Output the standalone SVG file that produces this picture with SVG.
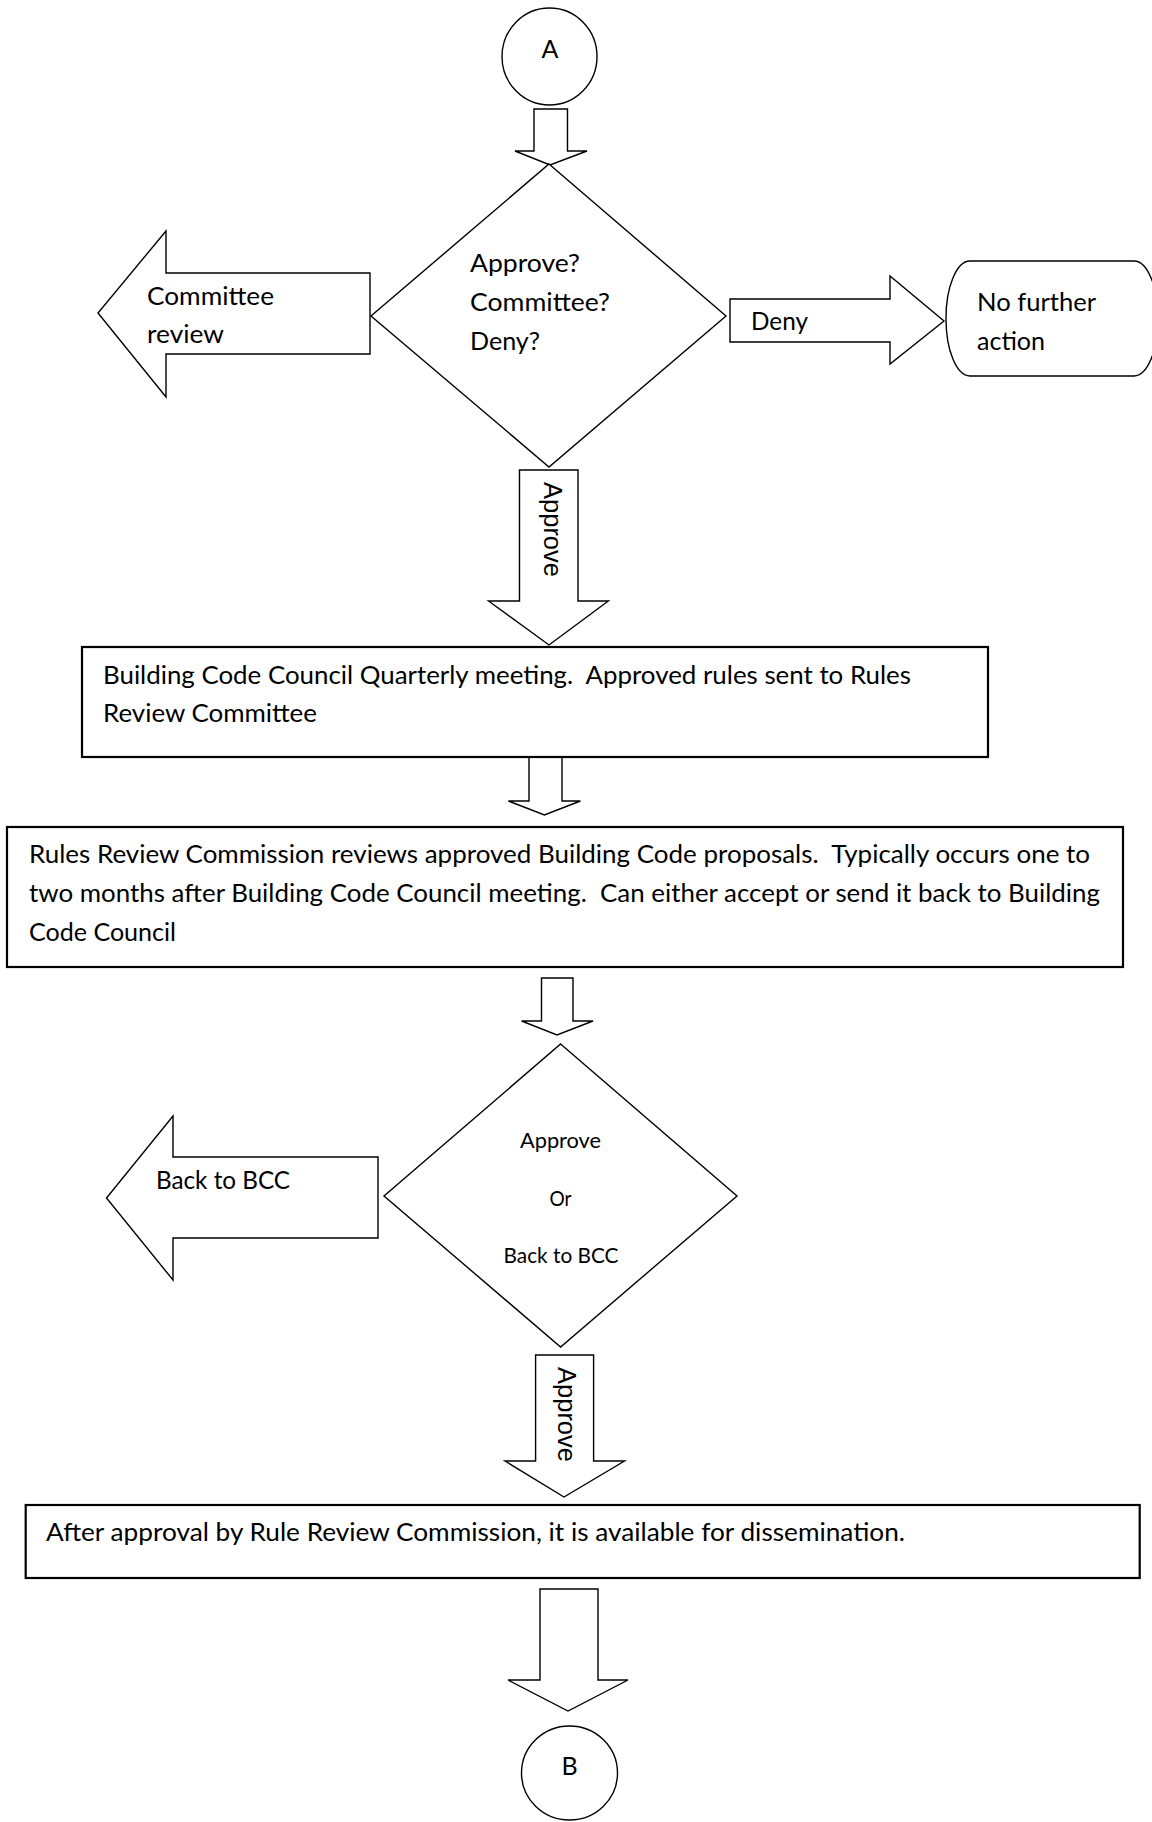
<svg xmlns="http://www.w3.org/2000/svg" width="1152" height="1822" viewBox="0 0 1152 1822">
<style>
.s{fill:#fff;stroke:#000;stroke-width:1.4;stroke-linejoin:miter}
.b{fill:#fff;stroke:#000;stroke-width:2.2}
.t{font-family:Lato,"Open Sans",sans-serif;font-size:25px;fill:#000;white-space:pre}
.t2{font-size:21px}
.r{font-family:"Liberation Sans",Arial,sans-serif;font-size:25px;fill:#000}
</style>
<rect width="1152" height="1822" fill="#fff"/>
<g id="connectors">
  <g id="arrow-a-to-decision1">
    <polygon class="s" points="534,109 567.5,109 567.5,151 587,151 550,165 515,151 534,151"/>
  </g>
  <g id="arrow-committee-review">
    <polygon class="s" points="370,273 370,354 166,354 166,397 98,313 166,231 166,273"/>
    <text class="t" x="147" y="305" textLength="127" lengthAdjust="spacingAndGlyphs">Committee</text>
    <text class="t" x="147" y="343" textLength="77" lengthAdjust="spacingAndGlyphs">review</text>
  </g>
  <g id="arrow-deny">
    <polygon class="s" points="730,299 890,299 890,276 944,321 890,364 890,342 730,342"/>
    <text class="t" x="751" y="330" textLength="57" lengthAdjust="spacingAndGlyphs">Deny</text>
  </g>
  <g id="arrow-approve1">
    <polygon class="s" points="519.5,470 578,470 578,601 608.3,601 549,645 488.6,601 519.5,601"/>
    <text class="r" transform="translate(544,482) rotate(90)" x="0" y="0" textLength="95" lengthAdjust="spacingAndGlyphs">Approve</text>
  </g>
  <g id="arrow-box1-to-box2">
    <polygon class="s" points="529,757 562,757 562,801 580.4,801 544.4,815 508.4,801 529,801"/>
  </g>
  <g id="arrow-box2-to-decision2">
    <polygon class="s" points="541.5,978 573,978 573,1021 593,1021 557,1035 521.6,1021 541.5,1021"/>
  </g>
  <g id="arrow-back-to-bcc">
    <polygon class="s" points="378,1157 378,1238 173,1238 173,1280 106.5,1198 173,1116 173,1157"/>
    <text class="t" x="156" y="1189" textLength="134" lengthAdjust="spacingAndGlyphs">Back to BCC</text>
  </g>
  <g id="arrow-approve2">
    <polygon class="s" points="535.6,1355 593.6,1355 593.6,1461 624.5,1461 564,1497 505,1461 535.6,1461"/>
    <text class="r" transform="translate(558,1367) rotate(90)" x="0" y="0" textLength="95" lengthAdjust="spacingAndGlyphs">Approve</text>
  </g>
  <g id="arrow-box3-to-b">
    <polygon class="s" points="540,1589 598,1589 598,1680 628,1680 568,1711 508,1680 540,1680"/>
  </g>
</g>
<g id="node-a">
  <ellipse class="s" cx="549.5" cy="56.5" rx="47.5" ry="48.5"/>
  <text class="t" x="550" y="58" text-anchor="middle">A</text>
</g>
<g id="decision1">
  <polygon class="s" points="549,164 726,316 549,467 371,316"/>
  <text class="t" x="470" y="272" textLength="110" lengthAdjust="spacingAndGlyphs">Approve?</text>
  <text class="t" x="470" y="311" textLength="140" lengthAdjust="spacingAndGlyphs">Committee?</text>
  <text class="t" x="470" y="350" textLength="70" lengthAdjust="spacingAndGlyphs">Deny?</text>
</g>
<g id="no-further-action">
  <rect class="s" x="946" y="261" width="212" height="115" rx="24" ry="57"/>
  <text class="t" x="977" y="311" textLength="119" lengthAdjust="spacingAndGlyphs">No further</text>
  <text class="t" x="977" y="350" textLength="68" lengthAdjust="spacingAndGlyphs">action</text>
</g>
<g id="box1">
  <rect class="b" x="82" y="647" width="906" height="110"/>
  <text class="t" x="103" y="684" textLength="808" lengthAdjust="spacingAndGlyphs">Building Code Council Quarterly meeting.  Approved rules sent to Rules</text>
  <text class="t" x="103" y="722" textLength="214" lengthAdjust="spacingAndGlyphs">Review Committee</text>
</g>
<g id="box2">
  <rect class="b" x="7" y="827" width="1116" height="140"/>
  <text class="t" x="29" y="863" textLength="1061" lengthAdjust="spacingAndGlyphs">Rules Review Commission reviews approved Building Code proposals.  Typically occurs one to</text>
  <text class="t" x="29" y="902" textLength="1071" lengthAdjust="spacingAndGlyphs">two months after Building Code Council meeting.  Can either accept or send it back to Building</text>
  <text class="t" x="29" y="941" textLength="147" lengthAdjust="spacingAndGlyphs">Code Council</text>
</g>
<g id="decision2">
  <polygon class="s" points="560.6,1044 737,1196 560.6,1347 384,1196"/>
  <text class="t t2" x="560.5" y="1148" text-anchor="middle" textLength="81" lengthAdjust="spacingAndGlyphs">Approve</text>
  <text class="t t2" x="560.5" y="1206" text-anchor="middle" textLength="22" lengthAdjust="spacingAndGlyphs">Or</text>
  <text class="t t2" x="561" y="1263" text-anchor="middle" textLength="115" lengthAdjust="spacingAndGlyphs">Back to BCC</text>
</g>
<g id="box3">
  <rect class="b" x="25.7" y="1505" width="1114" height="73"/>
  <text class="t" x="46" y="1541" textLength="859" lengthAdjust="spacingAndGlyphs">After approval by Rule Review Commission, it is available for dissemination.</text>
</g>
<g id="node-b">
  <ellipse class="s" cx="569.5" cy="1773" rx="48" ry="47"/>
  <text class="t" x="569.5" y="1775" text-anchor="middle">B</text>
</g>
</svg>
